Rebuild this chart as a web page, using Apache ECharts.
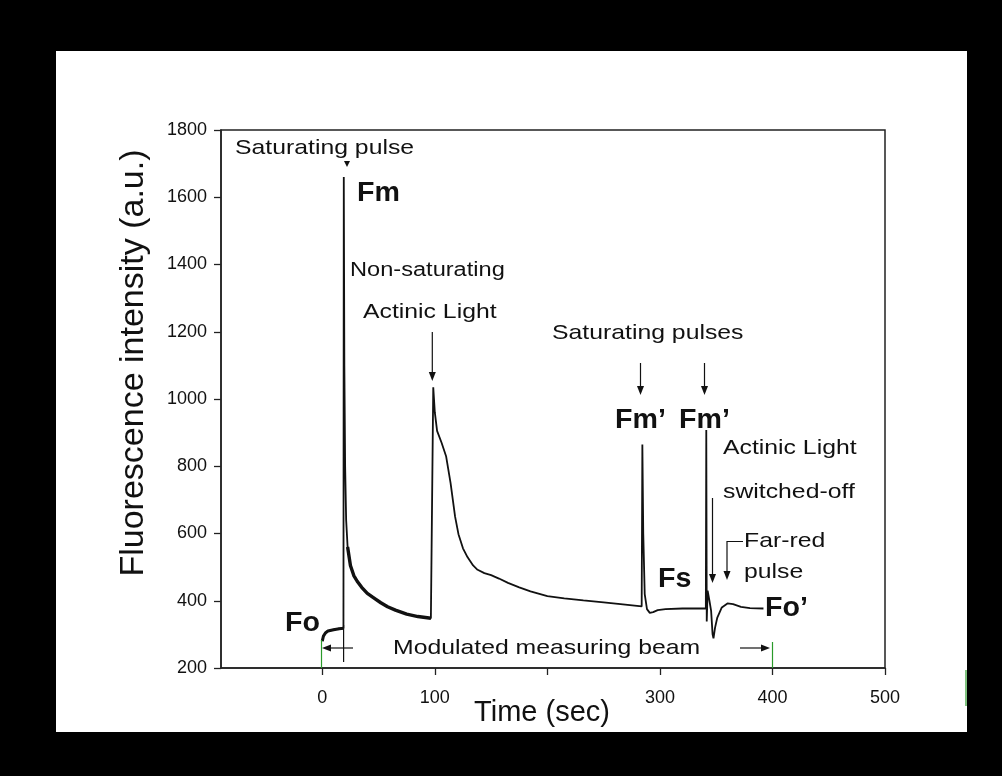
<!DOCTYPE html>
<html><head><meta charset="utf-8">
<script src="https://cdn.jsdelivr.net/npm/echarts@6/dist/echarts.min.js"></script>
<style>
html,body{margin:0;padding:0;background:#000;}
#wrap{position:relative;width:1002px;height:776px;background:#000;overflow:hidden;}
#inner{position:absolute;left:56px;top:51px;width:911px;height:681px;background:#fff;}
#c{position:absolute;left:0;top:0;width:1002px;height:776px;}
</style>
</head><body>
<div id="wrap"><div id="inner"></div><div id="c"></div></div>
<script>
// ---- data ----
const timeSec = [
  0, 1, 3, 5, 10, 15, 18.8,
  19.1, 19.6, 20.3, 21.2, 22.5, 25, 28, 31, 35, 40, 46, 52, 58, 65, 75, 85, 96.5,
  97.6, 98.6, 100, 102, 106, 110, 114, 118, 121, 125, 129, 134, 138, 144, 150, 157, 165, 175, 185, 200, 215, 232, 250, 265, 283.8,
  284.4, 285.2, 286.5, 288.5, 291, 294, 298, 305, 320, 340.8,
  341.2, 341.6, 342.4, 344, 345.5, 346.8, 347.6, 349, 351, 355, 360, 365, 372, 380, 392
];
const fluor = [
  280, 295, 305, 310, 314, 317, 318,
  1660, 1100, 800, 640, 560, 505, 475, 458, 440, 422, 408, 394, 382, 372, 360, 353, 348,
  350, 1035, 960, 905, 870, 830, 750, 650, 598, 556, 530, 505, 492, 482, 476, 466, 453, 440, 428, 414, 407, 401, 395, 390, 383,
  865, 600, 420, 375, 364, 366, 372, 375, 377, 377,
  908, 338, 430, 400, 370, 300, 288, 320, 350, 380, 392, 390, 382, 378, 377
];
const xTickValues = [0, 100, 200, 300, 400, 500];
const xLabelValues = [0, 100, 300, 400, 500];
const xMin = -90, xMax = 500;
const yMin = 200, yMax = 1800, yStep = 200;
// noisy stretches of the trace drawn heavier
const noisyRanges = [[0, 18.8], [22.5, 96.5]];

const FONT = '"Liberation Sans", Arial, sans-serif';
const trace = timeSec.map((t, i) => [t, fluor[i]]);
const noisy = noisyRanges.map(r => trace.filter(p => p[0] >= r[0] && p[0] <= r[1]));

const chart = echarts.init(document.getElementById('c'), null, {renderer: 'canvas'});

function txt(x, cy, s, size, bold, sx) {
  return {type: 'text', x: x, y: cy, scaleX: sx || 1.18, z: 50,
    style: {text: s, fill: '#111', font: (bold ? 'bold ' : '') + size + 'px ' + FONT, textVerticalAlign: 'middle', textAlign: 'left'}};
}
function seg(pts, color, w) {
  return {type: 'polyline', z: 40, shape: {points: pts}, style: {stroke: color || '#111', lineWidth: w || 1.2, fill: null}};
}
function head(x, y, dir, len, half) {
  len = len || 9; half = half || 3.5;
  let pts;
  if (dir === 'down') pts = [[x - half, y - len], [x + half, y - len], [x, y]];
  else if (dir === 'left') pts = [[x + len, y - half], [x + len, y + half], [x, y]];
  else pts = [[x - len, y - half], [x - len, y + half], [x, y]];
  return {type: 'polygon', z: 41, shape: {points: pts}, style: {fill: '#111'}};
}

const graphics = [
  txt(235, 148, 'Saturating pulse', 21),
  head(347, 167, 'down', 6, 3),
  txt(357, 194, 'Fm', 27, true, 1.06),
  txt(350, 270, 'Non-saturating', 20),
  txt(363, 312, 'Actinic Light', 21),
  seg([[432.3, 332], [432.3, 372]]), head(432.3, 381, 'down'),
  txt(552, 333, 'Saturating pulses', 21),
  seg([[640.5, 363], [640.5, 386]]), head(640.5, 395, 'down'),
  seg([[704.5, 363], [704.5, 386]]), head(704.5, 395, 'down'),
  txt(615, 421, 'Fm\u2019', 27, true, 1.06),
  txt(679, 421, 'Fm\u2019', 27, true, 1.06),
  txt(723, 448, 'Actinic Light', 21),
  txt(723, 492, 'switched-off', 21),
  seg([[712.5, 498], [712.5, 574]]), head(712.5, 583, 'down'),
  txt(744, 541, 'Far-red', 21),
  txt(744, 572, 'pulse', 21),
  seg([[743, 541.5], [727, 541.5], [727, 571]]), head(727, 580, 'down'),
  txt(658, 580, 'Fs', 27, true, 1.06),
  txt(765, 609, 'Fo\u2019', 27, true, 1.06),
  txt(285, 624, 'Fo', 27, true, 1.06),
  txt(393, 648, 'Modulated measuring beam', 21),
  seg([[353, 648], [330, 648]]), head(322, 648, 'left'),
  seg([[740, 648], [762, 648]]), head(770, 648, 'right'),
  seg([[343.6, 625], [343.6, 662]]),
  seg([[321.5, 640], [321.5, 668]], '#2a9a2a', 1.2),
  seg([[772.5, 642], [772.5, 668]], '#2a9a2a', 1.2),
  seg([[966, 670], [966, 706]], '#2a9a2a', 1.2)
];

chart.setOption({
  backgroundColor: 'transparent',
  animation: false,
  grid: {left: 221, right: 117, top: 130, bottom: 108, show: true, borderColor: '#222', borderWidth: 1.5, backgroundColor: 'transparent'},
  xAxis: {
    type: 'value', min: xMin, max: xMax,
    name: 'Time (sec)', nameLocation: 'middle', nameGap: 30, nameMoveOverlap: false,
    nameTextStyle: {fontFamily: FONT, fontSize: 29, color: '#111', padding: [0, 22, 0, 0]},
    axisLine: {show: true, onZero: false, lineStyle: {color: '#222', width: 1.5}},
    axisTick: {show: true, inside: false, length: 7, customValues: xTickValues, lineStyle: {color: '#222', width: 1.3}},
    axisLabel: {customValues: xLabelValues, fontFamily: FONT, fontSize: 18, color: '#111', margin: 21},
    splitLine: {show: false}
  },
  yAxis: {
    type: 'value', min: yMin, max: yMax, interval: yStep,
    name: 'Fluorescence intensity (a.u.)', nameLocation: 'middle', nameGap: 70, nameMoveOverlap: false,
    nameTextStyle: {fontFamily: FONT, fontSize: 34, color: '#111', padding: [0, 0, 0, 72]},
    axisLine: {show: true, onZero: false, lineStyle: {color: '#222', width: 1.5}},
    axisTick: {show: true, inside: false, length: 7, lineStyle: {color: '#222', width: 1.3}},
    axisLabel: {fontFamily: FONT, fontSize: 18, color: '#111', margin: 14, formatter: v => String(v)},
    splitLine: {show: false}
  },
  series: [
    {type: 'line', data: trace, showSymbol: false, symbol: 'none', lineStyle: {color: '#111', width: 1.8}, z: 3},
    {type: 'line', data: noisy[0], showSymbol: false, symbol: 'none', lineStyle: {color: '#111', width: 3}, z: 3},
    {type: 'line', data: noisy[1], showSymbol: false, symbol: 'none', lineStyle: {color: '#111', width: 3.4}, z: 3}
  ],
  graphic: graphics
});
</script>
</body></html>
